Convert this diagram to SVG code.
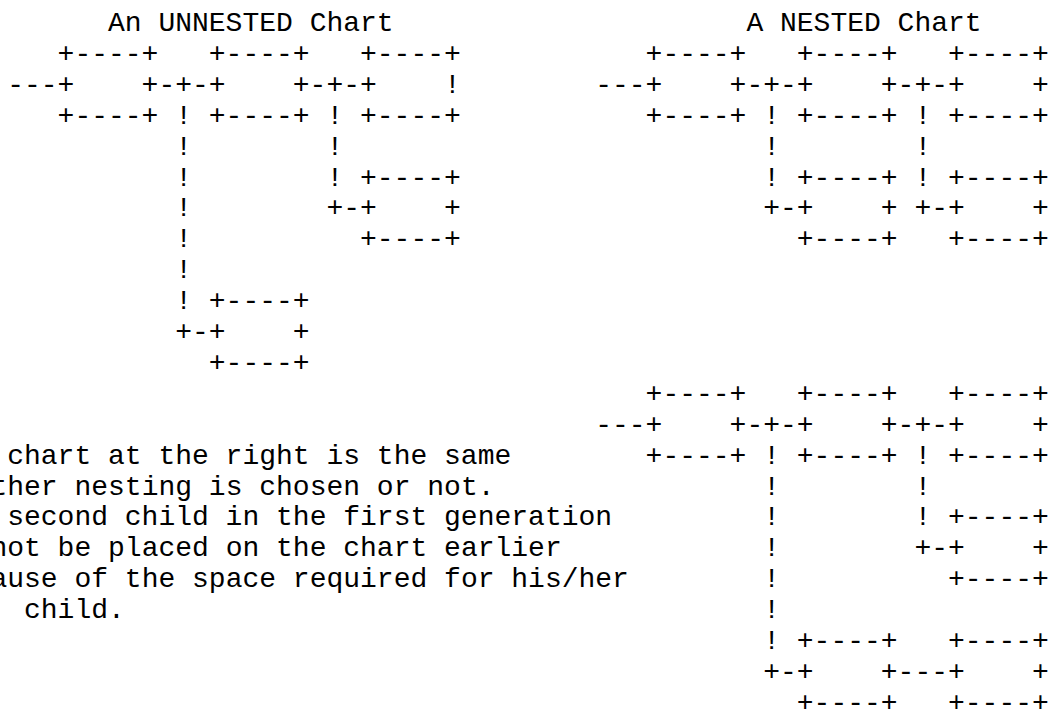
<svg xmlns="http://www.w3.org/2000/svg" width="1048" height="709" viewBox="0 0 1048 709">
  <style>
    text { font-family: "Liberation Mono", "Courier New", monospace; font-size: 28px; fill: #000; }
  </style>
  <!-- character grid: column c at x = 7.2 + 16.8c, row r baseline at y = 31 + 30.9r -->
  <rect width="1048" height="709" fill="#fff"/>

  <g id="titles">
    <text x="108" y="31">An UNNESTED Chart</text>
    <text x="746.4" y="31">A NESTED Chart</text>
  </g>

  <!-- unnested chart -->
  <g id="unnested-box-1"><text x="57.6" y="61.9">+----+</text><text x="57.6" y="92.8">+</text><text x="141.6" y="92.8">+</text><text x="57.6" y="123.7">+----+</text></g>
  <g id="unnested-box-2"><text x="208.8" y="61.9">+----+</text><text x="208.8" y="92.8">+</text><text x="292.8" y="92.8">+</text><text x="208.8" y="123.7">+----+</text></g>
  <g id="unnested-box-3"><text x="360" y="61.9">+----+</text><text x="360" y="92.8">+</text><text x="444" y="92.8">!</text><text x="360" y="123.7">+----+</text></g>
  <g id="unnested-box-4"><text x="360" y="185.5">+----+</text><text x="360" y="216.4">+</text><text x="444" y="216.4">+</text><text x="360" y="247.3">+----+</text></g>
  <g id="unnested-box-5"><text x="208.8" y="309.1">+----+</text><text x="208.8" y="340">+</text><text x="292.8" y="340">+</text><text x="208.8" y="370.9">+----+</text></g>

  <!-- nested chart, upper -->
  <g id="nested-a-box-1"><text x="645.6" y="61.9">+----+</text><text x="645.6" y="92.8">+</text><text x="729.6" y="92.8">+</text><text x="645.6" y="123.7">+----+</text></g>
  <g id="nested-a-box-2"><text x="796.8" y="61.9">+----+</text><text x="796.8" y="92.8">+</text><text x="880.8" y="92.8">+</text><text x="796.8" y="123.7">+----+</text></g>
  <g id="nested-a-box-3"><text x="948" y="61.9">+----+</text><text x="948" y="92.8">+</text><text x="1032" y="92.8">+</text><text x="948" y="123.7">+----+</text></g>
  <g id="nested-a-box-4"><text x="796.8" y="185.5">+----+</text><text x="796.8" y="216.4">+</text><text x="880.8" y="216.4">+</text><text x="796.8" y="247.3">+----+</text></g>
  <g id="nested-a-box-5"><text x="948" y="185.5">+----+</text><text x="948" y="216.4">+</text><text x="1032" y="216.4">+</text><text x="948" y="247.3">+----+</text></g>

  <!-- nested chart, lower -->
  <g id="nested-b-box-1"><text x="645.6" y="401.8">+----+</text><text x="645.6" y="432.7">+</text><text x="729.6" y="432.7">+</text><text x="645.6" y="463.6">+----+</text></g>
  <g id="nested-b-box-2"><text x="796.8" y="401.8">+----+</text><text x="796.8" y="432.7">+</text><text x="880.8" y="432.7">+</text><text x="796.8" y="463.6">+----+</text></g>
  <g id="nested-b-box-3"><text x="948" y="401.8">+----+</text><text x="948" y="432.7">+</text><text x="1032" y="432.7">+</text><text x="948" y="463.6">+----+</text></g>
  <g id="nested-b-box-4"><text x="948" y="525.4">+----+</text><text x="948" y="556.3">+</text><text x="1032" y="556.3">+</text><text x="948" y="587.2">+----+</text></g>
  <g id="nested-b-box-5"><text x="796.8" y="649">+----+</text><text x="796.8" y="679.9">+</text><text x="880.8" y="679.9">+</text><text x="796.8" y="710.8">+----+</text></g>
  <g id="nested-b-box-6"><text x="948" y="649">+----+</text><text x="948" y="679.9">+</text><text x="1032" y="679.9">+</text><text x="948" y="710.8">+----+</text></g>

  <g id="connectors">
    <!-- unnested -->
    <text x="7.2" y="92.8">---</text>
    <text x="158.4" y="92.8">-+-</text>
    <text x="175.2" y="123.7">!</text>
    <text x="175.2" y="154.6">!</text>
    <text x="175.2" y="185.5">!</text>
    <text x="175.2" y="216.4">!</text>
    <text x="175.2" y="247.3">!</text>
    <text x="175.2" y="278.2">!</text>
    <text x="175.2" y="309.1">!</text>
    <text x="175.2" y="340">+-</text>
    <text x="309.6" y="92.8">-+-</text>
    <text x="326.4" y="123.7">!</text>
    <text x="326.4" y="154.6">!</text>
    <text x="326.4" y="185.5">!</text>
    <text x="326.4" y="216.4">+-</text>
    <!-- nested, upper -->
    <text x="595.2" y="92.8">---</text>
    <text x="746.4" y="92.8">-+-</text>
    <text x="897.6" y="92.8">-+-</text>
    <text x="763.2" y="123.7">!</text>
    <text x="763.2" y="154.6">!</text>
    <text x="763.2" y="185.5">!</text>
    <text x="763.2" y="216.4">+-</text>
    <text x="914.4" y="123.7">!</text>
    <text x="914.4" y="154.6">!</text>
    <text x="914.4" y="185.5">!</text>
    <text x="914.4" y="216.4">+-</text>
    <!-- nested, lower -->
    <text x="595.2" y="432.7">---</text>
    <text x="746.4" y="432.7">-+-</text>
    <text x="897.6" y="432.7">-+-</text>
    <text x="763.2" y="463.6">!</text>
    <text x="763.2" y="494.5">!</text>
    <text x="763.2" y="525.4">!</text>
    <text x="763.2" y="556.3">!</text>
    <text x="763.2" y="587.2">!</text>
    <text x="763.2" y="618.1">!</text>
    <text x="763.2" y="649">!</text>
    <text x="763.2" y="679.9">+-</text>
    <text x="914.4" y="463.6">!</text>
    <text x="914.4" y="494.5">!</text>
    <text x="914.4" y="525.4">!</text>
    <text x="914.4" y="556.3">+-</text>
    <text x="897.6" y="679.9">---</text>
  </g>

  <g id="note">
    <text x="7.2" y="463.6">chart at the right is the same</text>
    <text x="-9.6" y="494.5">ther nesting is chosen or not.</text>
    <text x="7.2" y="525.4">second child in the first generation</text>
    <text x="-9.6" y="556.3">not be placed on the chart earlier</text>
    <text x="-9.6" y="587.2">ause of the space required for his/her</text>
    <text x="24" y="618.1">child.</text>
  </g>
</svg>
